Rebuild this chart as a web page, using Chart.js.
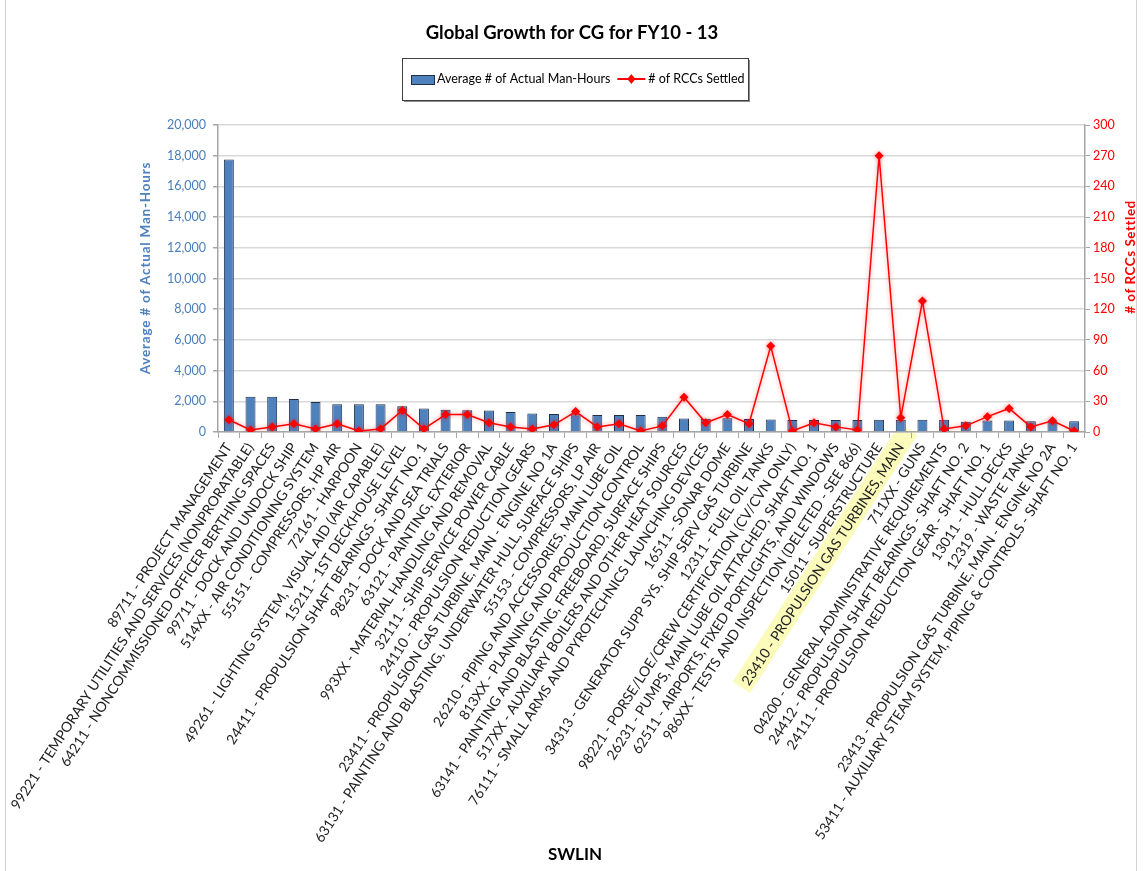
<!DOCTYPE html>
<html>
<head>
<meta charset="utf-8">
<title>Global Growth for CG for FY10 - 13</title>
<script src="https://cdn.jsdelivr.net/npm/chart.js@4.4.1/dist/chart.umd.min.js"></script>
<style>
  html, body { margin: 0; padding: 0; background: #ffffff; }
  #wrap { position: relative; width: 1144px; height: 871px; }
  canvas { display: block; }
</style>
</head>
<body>
<div id="wrap"><canvas id="chart" width="1144" height="871"></canvas></div>
<script>
// SWLIN work items, in plotted order
const categories = [
  "89711 - PROJECT MANAGEMENT",
  "99221 - TEMPORARY UTILITIES AND SERVICES (NONPRORATABLE)",
  "64211 - NONCOMMISSIONED OFFICER BERTHING SPACES",
  "99711 - DOCK AND UNDOCK SHIP",
  "514XX - AIR CONDITIONING SYSTEM",
  "55151 - COMPRESSORS, HP AIR",
  "72161 - HARPOON",
  "49261 - LIGHTING SYSTEM, VISUAL AID (AIR CAPABLE)",
  "15211 - 1ST DECKHOUSE LEVEL",
  "24411 - PROPULSION SHAFT BEARINGS - SHAFT NO. 1",
  "98231 - DOCK AND SEA TRIALS",
  "63121 - PAINTING, EXTERIOR",
  "993XX - MATERIAL HANDLING AND REMOVAL",
  "32111 - SHIP SERVICE POWER CABLE",
  "24110 - PROPULSION REDUCTION GEARS",
  "23411 - PROPULSION GAS TURBINE, MAIN - ENGINE NO 1A",
  "63131 - PAINTING AND BLASTING, UNDERWATER HULL, SURFACE SHIPS",
  "55153 - COMPRESSORS, LP AIR",
  "26210 - PIPING AND ACCESSORIES, MAIN LUBE OIL",
  "813XX - PLANNING AND PRODUCTION CONTROL",
  "63141 - PAINTING AND BLASTING, FREEBOARD, SURFACE SHIPS",
  "517XX - AUXILIARY BOILERS AND OTHER HEAT SOURCES",
  "76111 - SMALL ARMS AND PYROTECHNICS LAUNCHING DEVICES",
  "16511 - SONAR DOME",
  "34313 - GENERATOR SUPP SYS, SHIP SERV GAS TURBINE",
  "12311 - FUEL OIL TANKS",
  "98221 - PORSE/LOE/CREW CERTIFICATION (CV/CVN ONLY)",
  "26231 - PUMPS, MAIN LUBE OIL ATTACHED, SHAFT NO. 1",
  "62511 - AIRPORTS, FIXED PORTLIGHTS, AND WINDOWS",
  "986XX - TESTS AND INSPECTION (DELETED - SEE 866)",
  "15011 - SUPERSTRUCTURE",
  "23410 - PROPULSION GAS TURBINES, MAIN",
  "711XX - GUNS",
  "04200 - GENERAL ADMINISTRATIVE REQUIREMENTS",
  "24412 - PROPULSION SHAFT BEARINGS - SHAFT NO. 2",
  "24111 - PROPULSION REDUCTION GEAR - SHAFT NO. 1",
  "13011 - HULL DECKS",
  "12319 - WASTE TANKS",
  "23413 - PROPULSION GAS TURBINE, MAIN - ENGINE NO 2A",
  "53411 - AUXILIARY STEAM SYSTEM, PIPING & CONTROLS - SHAFT NO. 1"
];

// Average # of actual man-hours per SWLIN
const manHours = [
  17750, 2300, 2300, 2150, 1950, 1800, 1800, 1800, 1680, 1530,
  1450, 1420, 1400, 1300, 1200, 1180, 1150, 1100, 1100, 1100,
  1000, 880, 870, 900, 850, 820, 780, 780, 780, 780,
  800, 800, 800, 800, 670, 750, 750, 700, 700, 700
];

// # of RCCs settled per SWLIN
const rccsSettled = [
  12, 2, 5, 8, 3, 8, 1, 3, 21, 3,
  17, 17, 9, 5, 3, 7, 20, 5, 8, 1,
  6, 34, 9, 17, 8, 84, 1, 9, 5, 2,
  270, 14, 128, 3, 6, 15, 23, 5, 11, 1
];

// Axis tick values
const manHourTicks = [0, 2000, 4000, 6000, 8000, 10000, 12000, 14000, 16000, 18000, 20000];
const rccTicks = [0, 30, 60, 90, 120, 150, 180, 210, 240, 270, 300];

// Highlighted SWLIN label
const highlightedCategory = "23410 - PROPULSION GAS TURBINES, MAIN";

const seriesNames = ["Average # of Actual Man-Hours", "# of RCCs Settled"];

const FONT = "Lato, 'Liberation Sans', 'DejaVu Sans', sans-serif";
const BAR_BLUE = "#4F81BD";
const BAR_EDGE = "#1F2F4A";
const LINE_RED = "#FF0000";
const AXIS_GREY = "#a6a6a6";
const LABEL_ROTATION = 57;
const LABEL_FONT_SIZE = 14;

// Light frame around the chart area
const frame = {
  id: "frame",
  beforeDraw(chart) {
    const ctx = chart.ctx;
    ctx.save();
    ctx.fillStyle = "#ffffff";
    ctx.fillRect(0, 0, chart.width, chart.height);
    ctx.strokeStyle = "#d0d0d0";
    ctx.lineWidth = 1;
    ctx.beginPath();
    ctx.moveTo(5.5, 0); ctx.lineTo(5.5, chart.height);
    ctx.moveTo(1136.5, 0); ctx.lineTo(1136.5, chart.height);
    ctx.stroke();
    ctx.restore();
  }
};

// Yellow marker behind one category label
const labelHighlight = {
  id: "labelHighlight",
  beforeDraw(chart) {
    const x = chart.scales.x;
    const idx = categories.indexOf(highlightedCategory);
    if (idx < 0) return;
    const ctx = chart.ctx;
    ctx.save();
    ctx.font = LABEL_FONT_SIZE + "px " + FONT;
    const w = ctx.measureText(highlightedCategory).width;
    const px = x.getPixelForTick(idx);
    const py = x.top + 6 + 3;
    const a = -LABEL_ROTATION * Math.PI / 180;
    ctx.translate(px, py);
    ctx.rotate(a);
    ctx.fillStyle = "rgba(250, 250, 175, 0.85)";
    ctx.fillRect(-w - 8, -10, w + 22, 21);
    ctx.restore();
  }
};

// Soft glow under the RCC line
const lineGlow = {
  id: "lineGlow",
  beforeDatasetDraw(chart, args) {
    if (args.index !== 1) return;
    const ctx = chart.ctx;
    ctx.save();
    ctx.shadowColor = "rgba(255, 0, 0, 0.45)";
    ctx.shadowBlur = 4;
  },
  afterDatasetDraw(chart, args) {
    if (args.index !== 1) return;
    chart.ctx.restore();
  }
};

// Boxed legend and rotated axis titles
const decorations = {
  id: "decorations",
  afterDraw(chart) {
    const ctx = chart.ctx;
    ctx.save();

    // legend frame with drop shadow
    const bx = 402, by = 58, bw = 346, bh = 42;
    ctx.fillStyle = "#8c8c8c";
    ctx.fillRect(bx + 2, by + 2, bw, bh);
    ctx.fillStyle = "#ffffff";
    ctx.fillRect(bx, by, bw, bh);
    ctx.strokeStyle = "#404040";
    ctx.lineWidth = 1;
    ctx.strokeRect(bx + 0.5, by + 0.5, bw, bh);

    const cy = 79;
    ctx.font = "12.5px " + FONT;
    ctx.textBaseline = "middle";
    ctx.textAlign = "left";
    // bar swatch
    ctx.fillStyle = BAR_BLUE;
    ctx.fillRect(411, cy - 4, 23, 9);
    ctx.strokeStyle = BAR_EDGE;
    ctx.strokeRect(411.5, cy - 4 + 0.5, 23, 9);
    ctx.fillStyle = "#000000";
    ctx.fillText(chart.data.datasets[0].label, 437, cy);
    const t1 = ctx.measureText(chart.data.datasets[0].label).width;
    // line swatch with diamond
    const lx = 437 + t1 + 7;
    ctx.strokeStyle = LINE_RED;
    ctx.lineWidth = 2;
    ctx.beginPath();
    ctx.moveTo(lx, cy); ctx.lineTo(lx + 28, cy);
    ctx.stroke();
    ctx.fillStyle = LINE_RED;
    ctx.beginPath();
    ctx.moveTo(lx + 14, cy - 5); ctx.lineTo(lx + 18, cy);
    ctx.lineTo(lx + 14, cy + 5); ctx.lineTo(lx + 10, cy);
    ctx.closePath(); ctx.fill();
    ctx.fillStyle = "#000000";
    ctx.fillText(chart.data.datasets[1].label, lx + 31, cy);

    // axis titles
    ctx.textAlign = "center";
    ctx.font = "bold 13.5px " + FONT;
    ctx.fillStyle = BAR_BLUE;
    ctx.save();
    ctx.letterSpacing = "0.8px";
    ctx.translate(146, 268);
    ctx.rotate(-Math.PI / 2);
    ctx.fillText(seriesNames[0], 0, 0);
    ctx.restore();

    ctx.fillStyle = LINE_RED;
    ctx.save();
    ctx.letterSpacing = "0.5px";
    ctx.translate(1131, 257);
    ctx.rotate(-Math.PI / 2);
    ctx.fillText(seriesNames[1], 0, 0);
    ctx.restore();

    ctx.fillStyle = "#000000";
    ctx.font = "bold 17px " + FONT;
    ctx.fillText("SWLIN", 575, 855);

    ctx.restore();
  }
};

new Chart(document.getElementById("chart"), {
  data: {
    labels: categories,
    datasets: [
      {
        type: "bar",
        label: seriesNames[0],
        data: manHours,
        yAxisID: "y",
        backgroundColor: BAR_BLUE,
        borderColor: BAR_EDGE,
        borderWidth: 1,
        barPercentage: 0.46,
        categoryPercentage: 1.0,
        order: 2
      },
      {
        type: "line",
        label: seriesNames[1],
        data: rccsSettled,
        yAxisID: "y1",
        borderColor: LINE_RED,
        backgroundColor: LINE_RED,
        borderWidth: 1.5,
        pointStyle: "rectRot",
        pointRadius: 4.5,
        pointBackgroundColor: LINE_RED,
        pointBorderColor: LINE_RED,
        pointBorderWidth: 0,
        tension: 0,
        fill: false,
        order: 1
      }
    ]
  },
  options: {
    responsive: false,
    animation: false,
    devicePixelRatio: 1,
    layout: { padding: 0 },
    plugins: {
      legend: { display: false },
      tooltip: { enabled: false },
      title: {
        display: true,
        text: "Global Growth for CG for FY10 - 13",
        color: "#000000",
        font: { family: FONT, size: 18.5, weight: "bold", lineHeight: 1.2 },
        padding: { top: 22, bottom: 125 - 22 - 18.5 * 1.2 }
      }
    },
    scales: {
      x: {
        type: "category",
        offset: true,
        grid: {
          display: true,
          offset: true,
          drawOnChartArea: false,
          drawTicks: true,
          tickLength: 6,
          tickColor: AXIS_GREY,
          color: AXIS_GREY
        },
        border: { display: true, color: AXIS_GREY, width: 1.5 },
        ticks: {
          autoSkip: false,
          minRotation: LABEL_ROTATION,
          maxRotation: LABEL_ROTATION,
          padding: 2,
          color: "#222222",
          font: { family: FONT, size: LABEL_FONT_SIZE }
        },
        afterFit(scale) { scale.height = 871 - 432; }
      },
      y: {
        type: "linear",
        position: "left",
        min: 0,
        max: 20000,
        afterBuildTicks(scale) { scale.ticks = manHourTicks.map(v => ({ value: v })); },
        grid: {
          color: "#d9d9d9",
          lineWidth: 1.5,
          drawTicks: true,
          tickLength: 5,
          tickColor: AXIS_GREY
        },
        border: { display: true, color: AXIS_GREY, width: 1.5 },
        ticks: {
          padding: 7,
          color: "#4A7EBB",
          font: { family: FONT, size: 12.5 },
          callback: v => Number(v).toLocaleString("en-US")
        },
        afterFit(scale) { scale.width = 218; }
      },
      y1: {
        type: "linear",
        position: "right",
        min: 0,
        max: 300,
        afterBuildTicks(scale) { scale.ticks = rccTicks.map(v => ({ value: v })); },
        grid: {
          drawOnChartArea: false,
          drawTicks: true,
          tickLength: 5,
          tickColor: AXIS_GREY,
          color: AXIS_GREY
        },
        border: { display: true, color: AXIS_GREY, width: 1.5 },
        ticks: {
          padding: 3,
          color: LINE_RED,
          font: { family: FONT, size: 12.5 }
        },
        afterFit(scale) { scale.width = 1144 - 1085; }
      }
    }
  },
  plugins: [frame, labelHighlight, lineGlow, decorations]
});
</script>
</body>
</html>
